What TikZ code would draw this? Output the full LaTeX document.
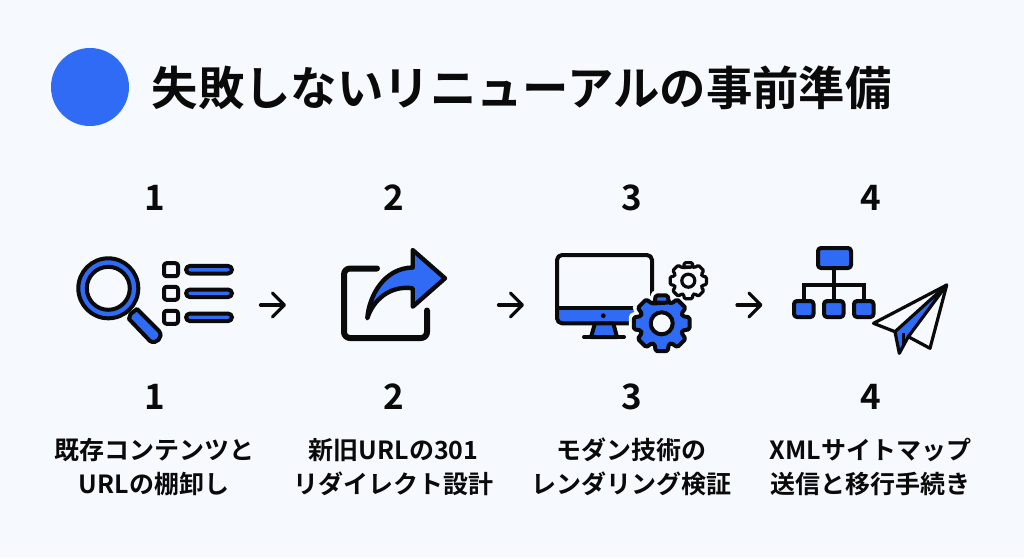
\documentclass[tikz,border=0pt]{standalone}
\usepackage{fontspec}
\setmainfont{Noto Sans CJK JP}[BoldFont={Noto Sans CJK JP Bold}]
\usetikzlibrary{arrows.meta}
\definecolor{bg}{HTML}{F6FAFF}
\definecolor{blu}{HTML}{2F6BF5}
\definecolor{ink}{HTML}{0A0A0A}
\tikzset{
  x=1pt,y=-1pt,
  titletext/.style={font=\fontsize{46.4}{46.4}\selectfont\bfseries,text=ink,anchor=west,inner sep=0pt},
  numtext/.style={font=\fontsize{35}{35}\selectfont\bfseries,text=ink,inner sep=0pt},
  labeltext/.style={font=\fontsize{25}{25}\selectfont\bfseries,text=ink,inner sep=0pt},
  stepline/.style={draw=ink,line width=4pt,line join=round,line cap=round},
  bluebox/.style={stepline,fill=blu,rounded corners=3pt},
  flowarrow/.style={draw=ink,line width=3.2pt,line cap=round,-{Straight Barb[length=12pt,width=24pt,line width=3.2pt,round]}},
}
\newcommand{\gearpath}[4]{%
  (#1,#2)+(-71:#4)
  \foreach \ga in {0,45,...,315}{
    -- +(\ga-90-19:#4) -- +(\ga-90-12:#3) -- +(\ga-90+12:#3) -- +(\ga-90+19:#4)
  } -- cycle}
\begin{document}
\begin{tikzpicture}
\useasboundingbox (0,0) rectangle (1024,558);
\fill[bg] (0,0) rectangle (1024,558);
% header
\node[circle,fill=blu,minimum size=78pt,inner sep=0pt] (dot) at (90,87) {};
\node[titletext] (title) at (151.5,88) {失敗しないリニューアルの事前準備};
% numbers and labels
\foreach \nm/\cx/\tx/\ty/\lab in {a/154/1/既存コンテンツと/URLの棚卸し,b/393/2/新旧URLの301/リダイレクト設計,c/631/3/モダン技術の/レンダリング検証,d/870/4/XMLサイトマップ/送信と移行手続き}{
  \node[numtext] (top\nm) at (\cx+1,198) {\tx};
  \node[numtext] (num\nm) at (\cx+1,397) {\tx};
  \node[labeltext] (la\nm) at (\cx+0.7,450) {\ty};
  \node[labeltext] (lb\nm) at (\cx,484) {\lab};
}
% flow arrows
\coordinate (f1a) at (260.5,305); \coordinate (f1b) at (286,305);
\coordinate (f2a) at (498.5,305); \coordinate (f2b) at (524,305);
\coordinate (f3a) at (737,305); \coordinate (f3b) at (762.5,305);
\draw[flowarrow] (f1a) -- (f1b);
\draw[flowarrow] (f2a) -- (f2b);
\draw[flowarrow] (f3a) -- (f3b);
% icon 1: magnifier and list
\draw[stepline,fill=blu] (130.5,314) -- (137,309) -- (159,331) .. controls (164,337) and (156,345) .. (150,341) -- (129,319) -- cycle;
\draw[stepline,fill=blu] (108.3,288.3) circle[radius=30];
\draw[stepline,fill=bg] (108.3,288.3) circle[radius=21.5];
\foreach \yy in {269.7,293.3,317.3}{
  \draw[stepline,fill=bg,rounded corners=2.5pt] (164,\yy-6.5) rectangle (178,\yy+6.5);
  \draw[bluebox,rounded corners=4pt] (186,\yy-3.8) rectangle (232,\yy+3.8);
}
% icon 2: share arrow
\draw[draw=ink,line width=6pt,line cap=round,line join=round,rounded corners=6pt] (377,268.5) -- (344,268.5) -- (344,338) -- (427,338) -- (427,310.5);
\draw[stepline,line width=4.4pt,fill=blu] (367.3,318.3) .. controls (369,296) and (384,268) .. (412.7,267.5) -- (412.7,250) -- (445,278.3) -- (412.7,306.7) -- (412.7,288.3) .. controls (390,285) and (373,300) .. cycle;
% icon 3: monitor and gears
\fill[blu] (557,308) rectangle (652,323);
\draw[stepline,rounded corners=5pt] (652,300) -- (652,255) -- (557,255) -- (557,323.3) -- (652,323.3);
\draw[stepline] (557,308) -- (652,308);
\fill[ink] (603.3,315.7) circle[radius=2.4];
\draw[stepline,fill=blu] (595,323.3) -- (591,337) -- (617,337) -- (613.3,323.3) -- cycle;
\draw[stepline] (584,337) -- (624,337);
\draw[draw=bg,fill=bg,line width=10pt,line join=round] \gearpath{661.7}{323.3}{28.5}{22};
\draw[stepline,fill=blu,rounded corners=1.5pt] \gearpath{661.7}{323.3}{28.5}{22};
\draw[stepline,fill=bg] (661.7,323.3) circle[radius=11];
\draw[stepline,line width=3.2pt,fill=bg,rounded corners=1.2pt] \gearpath{688.3}{280.7}{18.5}{14.5};
\draw[stepline,line width=3.2pt,fill=bg] (688.3,280.7) circle[radius=6.5];
% icon 4: sitemap and plane
\draw[stepline] (833.7,268) -- (833.7,301);
\draw[stepline,line cap=butt,line join=miter] (803.5,301) -- (803.5,285) -- (863.5,285) -- (863.5,301);
\draw[bluebox] (818,248) rectangle (851,268);
\draw[bluebox] (794,301) rectangle (813.5,317);
\draw[bluebox] (824,301) rectangle (843.5,317);
\draw[bluebox] (854,301) rectangle (873.5,317);
\draw[draw=ink,line width=3.2pt,line join=round,fill=bg] (946.7,285) -- (873.5,323.3) -- (895,331.7) -- (908.3,336.7) -- (930,348.3) -- cycle;
\draw[draw=ink,line width=3.2pt,line join=round,fill=blu] (946.7,285) -- (895,331.7) -- (899.3,353.3) -- (908.3,336.7) -- cycle;
\draw[draw=ink,line width=2.6pt,line join=round] (903.5,333) -- (903.5,346);
\end{tikzpicture}
\end{document}
